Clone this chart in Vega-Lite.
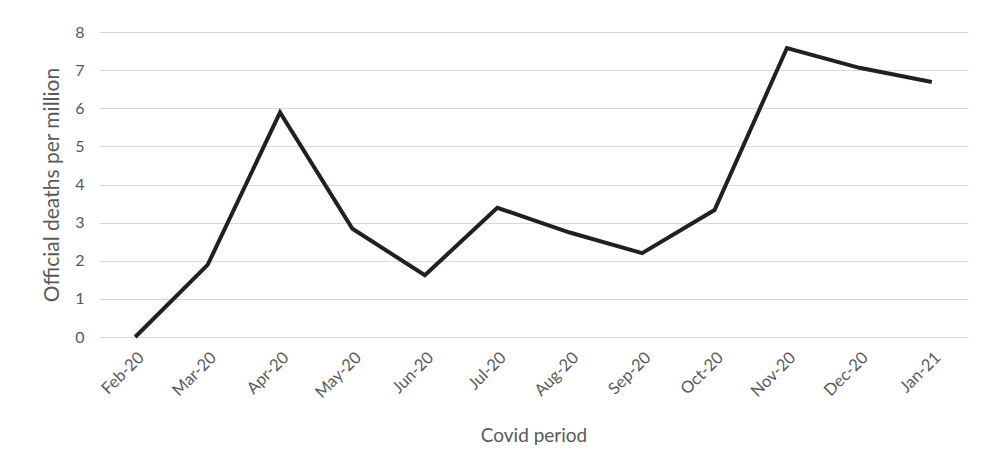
{
  "$schema": "https://vega.github.io/schema/vega-lite/v6.json",
  "autosize": "none",
  "padding": {"left": 99, "top": 32, "right": 16, "bottom": 137},
  "width": 869,
  "height": 305,
  "background": "white",
  "config": {
    "font": "Lato",
    "view": {"stroke": null},
    "axis": {"labelColor": "#595959", "titleColor": "#595959", "labelFont": "Lato", "titleFont": "Lato", "titleFontWeight": "normal"}
  },
  "data": {
    "values": [
      {"month": "Feb-20", "deaths": 0},
      {"month": "Mar-20", "deaths": 1.89},
      {"month": "Apr-20", "deaths": 5.89},
      {"month": "May-20", "deaths": 2.84},
      {"month": "Jun-20", "deaths": 1.62},
      {"month": "Jul-20", "deaths": 3.39},
      {"month": "Aug-20", "deaths": 2.74},
      {"month": "Sep-20", "deaths": 2.2},
      {"month": "Oct-20", "deaths": 3.33},
      {"month": "Nov-20", "deaths": 7.58},
      {"month": "Dec-20", "deaths": 7.06},
      {"month": "Jan-21", "deaths": 6.69}
    ]
  },
  "mark": {"type": "line", "color": "#231f20", "strokeWidth": 4, "strokeJoin": "miter"},
  "encoding": {
    "x": {
      "field": "month",
      "type": "ordinal",
      "sort": null,
      "scale": {"type": "point", "padding": 0.5},
      "axis": {
        "title": "Covid period",
        "titleFontSize": 19,
        "titlePadding": 26,
        "labelAngle": -45,
        "labelFontSize": 16.5,
        "labelPadding": 12,
        "ticks": false,
        "domainColor": "#d9d9d9",
        "grid": false
      }
    },
    "y": {
      "field": "deaths",
      "type": "quantitative",
      "scale": {"domain": [0, 8]},
      "axis": {
        "title": "Official deaths per million",
        "titleFontSize": 21,
        "titlePadding": 12,
        "labelFontSize": 16,
        "labelPadding": 15,
        "tickCount": 8,
        "ticks": false,
        "domain": false,
        "gridColor": "#d9d9d9",
        "gridWidth": 1
      }
    }
  }
}
